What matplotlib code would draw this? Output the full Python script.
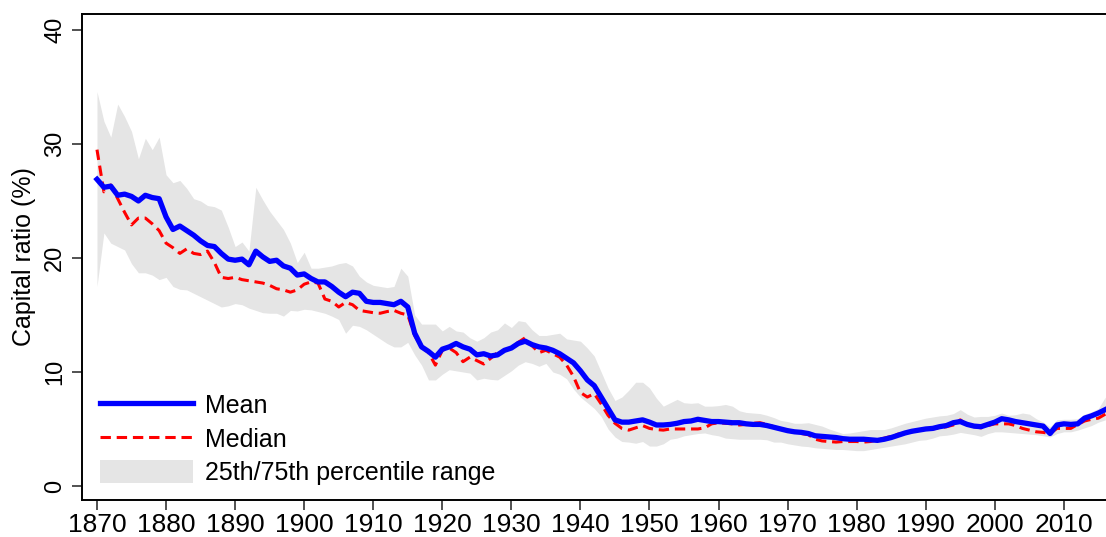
import numpy as np
import matplotlib
matplotlib.use("Agg")
import matplotlib.pyplot as plt
from matplotlib.patches import Patch
from matplotlib.lines import Line2D

years = np.arange(1870, 2017)

mean = [
    26.9, 26.2, 26.3, 25.5, 25.6, 25.4, 25.0, 25.5, 25.3, 25.2,
    23.6, 22.5, 22.8, 22.4, 22.0, 21.5, 21.1, 21.0, 20.4, 19.9,
    19.8, 19.9, 19.4, 20.6, 20.1, 19.7, 19.8, 19.3, 19.1, 18.5,
    18.6, 18.2, 17.9, 17.9, 17.5, 17.0, 16.6, 17.0, 16.9, 16.2,
    16.1, 16.1, 16.0, 15.9, 16.2, 15.7, 13.4, 12.2, 11.8, 11.3,
    12.0, 12.2, 12.5, 12.2, 12.0, 11.5, 11.6, 11.4, 11.5, 11.9,
    12.1, 12.5, 12.7, 12.4, 12.2, 12.1, 11.9, 11.6, 11.2, 10.8,
    10.1, 9.3, 8.8, 7.8, 6.8, 5.8, 5.6, 5.6, 5.7, 5.8,
    5.6, 5.35, 5.35, 5.4, 5.5, 5.65, 5.7, 5.85, 5.75, 5.65,
    5.65, 5.6, 5.55, 5.55, 5.45, 5.4, 5.4, 5.3, 5.15, 5.0,
    4.85, 4.75, 4.7, 4.6, 4.4, 4.35, 4.3, 4.25, 4.15, 4.1,
    4.1, 4.1, 4.05, 4.0, 4.1, 4.25, 4.45, 4.65, 4.8, 4.9,
    5.0, 5.05, 5.2, 5.3, 5.55, 5.65, 5.4, 5.25, 5.2, 5.4,
    5.6, 5.9, 5.8, 5.65, 5.55, 5.45, 5.35, 5.25, 4.6, 5.35,
    5.45, 5.4, 5.45, 5.95, 6.15, 6.4, 6.7,
]

median = [
    29.5, 25.8, 26.4, 25.2, 24.0, 22.9, 23.5, 23.5, 23.0, 22.4,
    21.3, 20.9, 20.4, 20.8, 20.4, 20.3, 20.6, 19.6, 18.3, 18.2,
    18.3, 18.1, 18.0, 17.9, 17.8, 17.6, 17.3, 17.2, 17.0, 17.2,
    17.7, 17.9, 17.8, 16.4, 16.2, 15.7, 16.1, 15.9, 15.4, 15.3,
    15.2, 15.15, 15.3, 15.4, 15.15, 15.0, 13.2, 12.2, 11.7, 10.6,
    11.9, 12.1, 11.7, 10.9, 11.3, 11.0, 10.7, 11.2, 11.7, 11.9,
    12.1, 12.6, 13.0, 12.3, 11.7, 11.9, 11.6, 11.3, 10.6, 9.6,
    8.2, 7.8, 8.1, 7.2, 6.2, 5.5, 5.05, 4.9, 5.1, 5.3,
    5.05, 4.95, 4.9, 5.0, 5.0, 5.0, 5.0, 5.0, 5.1, 5.45,
    5.55, 5.5, 5.45, 5.35, 5.4, 5.5, 5.55, 5.4, 5.2, 5.0,
    4.9, 4.75, 4.6, 4.5, 4.1, 3.95, 3.9, 3.85, 3.9, 3.9,
    3.9, 3.85, 3.9, 4.05, 4.2, 4.35, 4.55, 4.65, 4.75, 4.9,
    4.95, 5.0, 5.1, 5.2, 5.35, 5.8, 5.35, 5.2, 5.1, 5.3,
    5.45, 5.45, 5.45, 5.3, 5.05, 4.9, 4.75, 4.7, 4.6, 5.05,
    5.05, 5.05, 5.4, 5.7, 5.85, 5.95, 6.3,
]

p75 = [
    34.6, 32.0, 30.6, 33.5, 32.4, 31.1, 28.7, 30.5, 29.5, 30.6,
    27.3, 26.6, 26.8, 26.1, 25.2, 25.0, 24.6, 24.5, 24.2, 22.7,
    21.0, 21.4, 20.6, 26.2, 25.1, 24.1, 23.3, 22.5, 21.3, 19.6,
    20.5, 19.1, 19.1, 19.2, 19.3, 19.5, 19.6, 19.3, 18.4, 17.9,
    17.6, 17.5, 17.4, 17.5, 19.1, 18.4, 15.0, 14.2, 14.2, 14.2,
    13.6, 14.0, 13.6, 13.5, 13.0, 12.7, 13.0, 13.5, 13.7, 14.3,
    13.9, 14.5, 14.4, 13.7, 13.2, 13.2, 13.3, 13.4, 12.9, 12.8,
    12.7, 12.1, 11.4, 10.0, 8.6, 7.5, 7.8, 8.4, 9.1, 9.1,
    8.6, 7.7, 7.0, 7.3, 7.6, 7.3, 7.25, 7.3, 7.0, 7.0,
    7.05, 7.15, 7.0, 6.6, 6.45, 6.4, 6.35, 6.2, 6.0, 5.75,
    5.65, 5.5, 5.5, 5.55, 5.4, 5.25, 5.0, 4.8, 4.6, 4.65,
    4.75, 4.85, 4.95, 4.95, 4.95, 5.1, 5.3, 5.5, 5.65, 5.8,
    5.95, 6.05, 6.15, 6.2, 6.35, 6.7, 6.3, 6.05, 6.1, 6.1,
    6.2, 6.4, 6.2, 6.25, 6.4, 6.3, 5.9, 5.6, 5.2, 5.8,
    5.85, 5.85, 5.9, 6.3, 6.5, 6.8, 7.8,
]

p25 = [
    17.5, 22.2, 21.3, 21.0, 20.7, 19.5, 18.7, 18.7, 18.5, 18.1,
    18.3, 17.5, 17.25, 17.2, 16.9, 16.6, 16.3, 16.0, 15.7, 15.8,
    16.0, 15.9, 15.6, 15.4, 15.2, 15.15, 15.15, 14.9, 15.4, 15.35,
    15.5, 15.45, 15.3, 15.15, 14.9, 14.6, 13.4, 14.1, 14.0, 13.7,
    13.3, 12.9, 12.5, 12.2, 12.2, 12.6, 11.5, 10.6, 9.3, 9.3,
    9.8, 10.2, 10.1, 10.0, 9.9, 9.3, 9.45, 9.35, 9.3, 9.7,
    10.1, 10.6, 10.9, 10.75, 10.5, 10.75, 10.0, 9.8, 9.4, 8.5,
    7.8, 7.3, 6.8, 6.1, 5.0, 4.3, 3.9, 3.85, 3.75, 3.9,
    3.5, 3.5, 3.7, 4.1, 4.2, 4.4, 4.5, 4.6, 4.65, 4.5,
    4.4, 4.2, 4.15, 4.1, 4.1, 4.1, 4.1, 4.05, 3.85, 3.85,
    3.7, 3.6, 3.5, 3.45, 3.35, 3.3, 3.25, 3.2, 3.2, 3.15,
    3.1, 3.1, 3.2, 3.3, 3.4, 3.5, 3.6, 3.7, 3.85, 4.0,
    4.05, 4.2, 4.4, 4.45, 4.55, 4.7, 4.6, 4.5, 4.35, 4.6,
    4.75, 4.75, 4.7, 4.65, 4.6, 4.55, 4.5, 4.4, 4.3, 4.6,
    4.75, 4.75, 4.9, 5.1, 5.3, 5.6, 5.8,
]

xticks = list(range(1870, 2011, 10))
yticks = [0, 10, 20, 30, 40]

plt.rcParams['font.family'] = ['Liberation Sans', 'DejaVu Sans']

fig = plt.figure(figsize=(11.06, 5.37), dpi=100)
ax = fig.add_axes([82 / 1106, 1 - 500 / 537, 1 - 82 / 1106, (500 - 14) / 537])

band_color = '#e5e5e5'
ax.fill_between(years, p25, p75, color=band_color, linewidth=0, zorder=1)
ax.plot(years, median, color='red', lw=2.2, dashes=(3.4, 1.9), zorder=2)
ax.plot(years, mean, color='blue', lw=3.8, zorder=3, solid_joinstyle='round')

ax.set_xlim(1867.83, 2016.1)
ax.set_ylim(-1.23, 41.4)

ax.set_xticks(xticks)
ax.set_xticklabels([str(t) for t in xticks],
                   family=['Liberation Sans Narrow', 'Liberation Sans'], fontsize=19)
ax.set_yticks(yticks)
ax.set_yticklabels([str(t) for t in yticks], rotation=90, va='center', fontsize=17)
ax.tick_params(axis='both', direction='out', length=7.5, width=1.2, color='#333333')
ax.tick_params(axis='x', pad=2)
ax.tick_params(axis='y', pad=4)

for side in ['left', 'bottom', 'top']:
    ax.spines[side].set_linewidth(1.4)
ax.spines['right'].set_visible(False)

ax.set_ylabel('Capital ratio (%)', fontsize=18, labelpad=6)

handles = [
    Line2D([], [], color='blue', lw=3.8),
    Line2D([], [], color='red', lw=2.2, dashes=(3.4, 1.9)),
    Patch(facecolor=band_color, edgecolor='none'),
]
ax.legend(handles, ['Mean', 'Median', '25th/75th percentile range'],
          loc='lower left', bbox_to_anchor=(0.008, 0.010), frameon=False,
          fontsize=18, handlelength=3.7, handleheight=1.0,
          handletextpad=0.48, labelspacing=0.35, borderaxespad=0.0,
          borderpad=0.4)

fig.savefig('out.png', dpi=100)
